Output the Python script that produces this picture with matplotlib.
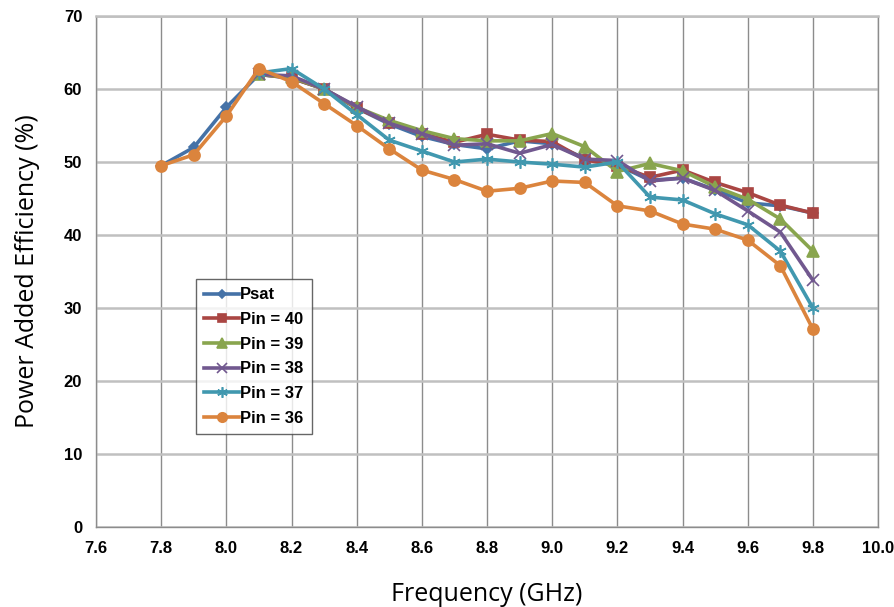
import matplotlib
matplotlib.use('Agg')
import matplotlib.pyplot as plt

# ── Measured PAE vs frequency ─────────────────────────────────────────────
freq_full = [7.8, 7.9, 8.0, 8.1, 8.2, 8.3, 8.4, 8.5, 8.6, 8.7, 8.8, 8.9,
             9.0, 9.1, 9.2, 9.3, 9.4, 9.5, 9.6, 9.7, 9.8]

psat = [49.5, 52.0, 57.5, 62.0, 61.5, 60.0, 57.4, 55.2, 53.5, 52.4, 51.8, 52.9,
        52.5, 50.5, 49.6, 47.5, 47.8, 46.2, 44.4, 44.0, 43.0]
pin36 = [49.5, 51.0, 56.3, 62.8, 61.0, 58.0, 55.0, 51.8, 48.9, 47.6, 46.0, 46.4,
         47.4, 47.2, 44.0, 43.3, 41.5, 40.8, 39.3, 35.8, 27.1]

freq_hi = freq_full[3:]
pin37 = [62.2, 62.8, 60.0, 56.5, 53.0, 51.5, 50.0, 50.4, 50.0,
         49.7, 49.3, 50.0, 45.2, 44.8, 42.9, 41.4, 37.8, 30.0]
pin38 = [62.0, 61.8, 60.0, 57.6, 55.3, 53.9, 52.3, 52.5, 51.2,
         52.4, 50.4, 50.2, 47.4, 47.8, 46.1, 43.3, 40.4, 33.8]
pin39 = [62.0, 61.6, 60.0, 57.5, 55.7, 54.3, 53.2, 52.9, 52.9,
         53.9, 52.1, 48.7, 49.8, 48.8, 46.6, 44.9, 42.2, 37.8]
pin40 = [62.0, 61.5, 60.0, 57.4, 55.4, 53.9, 52.7, 53.8, 53.0,
         52.8, 50.3, 49.5, 47.9, 48.9, 47.2, 45.8, 44.1, 43.0]

series = [
    ('Psat',     freq_full, psat,  '#4572A7', 'D', 5),
    ('Pin = 40', freq_hi,   pin40, '#AA4643', 's', 7),
    ('Pin = 39', freq_hi,   pin39, '#89A54E', '^', 8),
    ('Pin = 38', freq_hi,   pin38, '#71588F', 'x', 8),
    ('Pin = 37', freq_hi,   pin37, '#4198AF', (6, 2, 0), 9),
    ('Pin = 36', freq_full, pin36, '#DB843D', 'o', 8),
]

fig = plt.figure(figsize=(8.94, 6.07), dpi=100)
ax = fig.add_axes([0.1074, 0.1318, 0.8748, 0.8418])

for label, x, y, c, m, ms in series:
    ax.plot(x, y, color=c, lw=2.6, marker=m, ms=ms, mfc=c, mec=c,
            mew=1.2, label=label, zorder=3)

ax.set_xlim(7.6, 10.0)
ax.set_ylim(0, 70)
ax.set_xticks([7.6 + 0.2 * i for i in range(13)])
ax.set_yticks(range(0, 71, 10))
ax.set_xticklabels([f'{7.6 + 0.2 * i:.1f}' for i in range(13)])

for lbl in ax.get_xticklabels() + ax.get_yticklabels():
    lbl.set_fontfamily('Liberation Sans')
    lbl.set_fontweight('bold')
    lbl.set_fontsize(12)
ax.tick_params(length=0)
ax.tick_params(axis='x', pad=10)
ax.tick_params(axis='y', pad=10)

ax.grid(axis='y', color='#c0c0c0', lw=1.8, zorder=0)
ax.grid(axis='x', color='#8c8c8c', lw=1.0, zorder=0)
for s in ax.spines.values():
    s.set_color('#8c8c8c')
    s.set_linewidth(1.0)
ax.spines['top'].set_color('#c0c0c0')
ax.spines['top'].set_linewidth(1.8)

ax.set_xlabel('Frequency (GHz)', fontfamily='Open Sans', fontsize=18, labelpad=19)
ax.set_ylabel('Power Added Efficiency (%)', fontfamily='Open Sans', fontsize=18,
              labelpad=17)

leg = ax.legend(loc='upper left', bbox_to_anchor=(0.128, 0.4853),
                borderaxespad=0,
                prop={'family': 'Liberation Sans', 'weight': 'bold', 'size': 12},
                frameon=True, fancybox=False, edgecolor='#404040',
                handlelength=2.1, handletextpad=0.05, labelspacing=0.58,
                borderpad=0.5, markerscale=0.85)
leg.get_frame().set_linewidth(1.0)

fig.savefig('out.png', dpi=100, facecolor='white')
plt.close()
